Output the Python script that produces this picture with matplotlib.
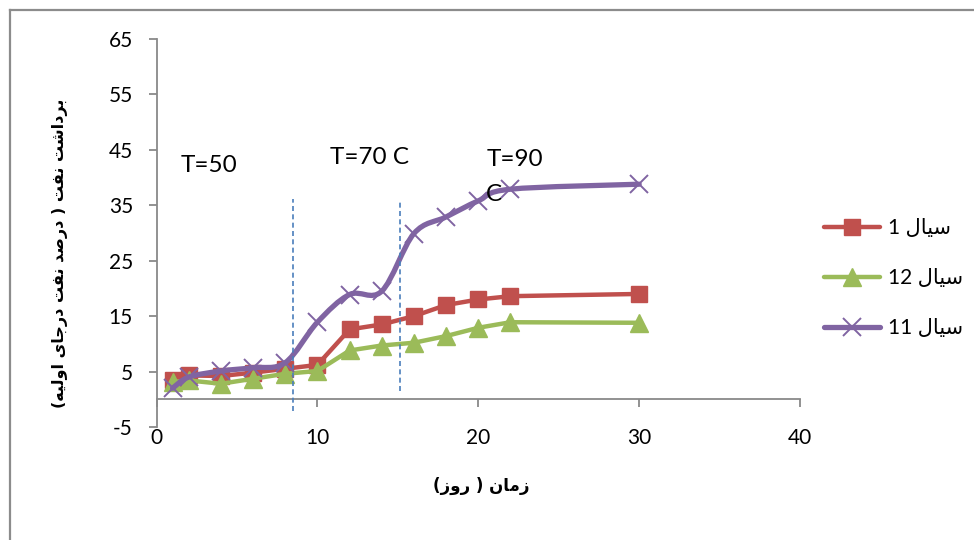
import matplotlib
matplotlib.use("Agg")
import matplotlib.pyplot as plt
from matplotlib.path import Path
from matplotlib.patches import PathPatch
from matplotlib.lines import Line2D
import numpy as np

# ---------------- data ----------------
days = [1, 2, 4, 6, 8, 10, 12, 14, 16, 18, 20, 22, 30]
fluid1 = [3.5, 4.3, 4.2, 4.8, 5.5, 6.2, 12.6, 13.5, 15.0, 17.0, 18.0, 18.6, 19.0]
fluid12 = [3.1, 3.4, 2.8, 3.7, 4.6, 5.1, 8.8, 9.7, 10.2, 11.4, 12.9, 13.9, 13.8]
fluid11 = [2.0, 4.0, 5.1, 5.7, 6.6, 13.9, 18.9, 19.5, 29.9, 32.9, 35.8, 37.9, 38.8]

# Persian labels in visual (pre-shaped, left-to-right) order
SIAL = "\uFEDD\uFE8E\uFEF4\uFEB3"                      # سیال
series_labels = ["1 " + SIAL, "12 " + SIAL, "11 " + SIAL]
ylabel_text = ("(" + "\uFEEA\uFEF4\uFEDF\uFEED\uFE8D" + " "      # اولیه
               + "\uFEEF\uFE8E\uFE9F\uFEAD\uFEA9" + " "          # درجای
               + "\uFE96\uFED4\uFEE7" + " "                      # نفت
               + "\uFEAA\uFEBB\uFEAD\uFEA9" + " ) "              # درصد
               + "\uFE96\uFED4\uFEE7" + " "                      # نفت
               + "\uFE96\uFEB7\uFE8D\uFEA9\uFEAE\uFE91")         # برداشت
xlabel_text = "(" + "\uFEAF\uFEED\uFEAD" + " ) " + "\uFEE5\uFE8E\uFEE3\uFEAF"  # زمان ( روز)

xticks = [0, 10, 20, 30, 40]
yticks = [-5, 5, 15, 25, 35, 45, 55, 65]

# temperature zone separators and labels
sep_x = [8.5, 15.15]
sep_ybot = [-2.2, 1.5]
sep_ytop = [36.2, 35.5]
zone_labels = ["T=50", "T=70 C", "T=90", "C"]
zone_x = [1.5, 10.8, 20.5, 20.5]
zone_y = [42.1, 43.7, 43.2, 36.9]

RED = "#C0504D"
GREEN = "#9BBB59"
PURPLE = "#8064A2"
BLUE = "#4A7EBB"
GRAY = "#898989"

FONT = ["Lato", "DejaVu Sans"]
plt.rcParams["font.family"] = FONT
plt.rcParams["axes.unicode_minus"] = False

fig = plt.figure(figsize=(9.74, 5.4), dpi=100)
ax = fig.add_axes([0.1607, 0.2093, 0.6607, 0.7185])

ax.set_xlim(0, 40)
ax.set_ylim(-5, 65)

# series 1 and 12: straight lines
ax.plot(days, fluid1, color=RED, lw=3.2, marker="s", ms=12, mec=RED,
        solid_joinstyle="round", solid_capstyle="round", zorder=3, clip_on=False)
ax.plot(days, fluid12, color=GREEN, lw=3.2, marker="^", ms=13, mec=GREEN,
        solid_joinstyle="round", solid_capstyle="round", zorder=4, clip_on=False)

# series 11: smoothed line (Bezier through points)
pts = np.column_stack([days, fluid11]).astype(float)
verts = [tuple(pts[0])]
codes = [Path.MOVETO]
n = len(pts)
for i in range(n - 1):
    p0 = pts[i - 1] if i > 0 else pts[i]
    p1 = pts[i]
    p2 = pts[i + 1]
    p3 = pts[i + 2] if i + 2 < n else pts[i + 1]
    c1 = p1 + (p2 - p0) / 6.0
    c2 = p2 - (p3 - p1) / 6.0
    verts += [tuple(c1), tuple(c2), tuple(p2)]
    codes += [Path.CURVE4] * 3
patch = PathPatch(Path(verts, codes), facecolor="none", edgecolor=PURPLE, lw=3.8,
                  capstyle="round", joinstyle="round", zorder=5, clip_on=False)
ax.add_patch(patch)
ax.plot(days, fluid11, linestyle="none", marker="x", ms=13, mew=1.4, color=PURPLE,
        zorder=6, clip_on=False)

# separators
for xs, yb, yt in zip(sep_x, sep_ybot, sep_ytop):
    ax.plot([xs, xs], [yb, yt], color=BLUE, lw=1.2, linestyle=(0, (3, 2)), zorder=7,
            clip_on=False)

for lab, tx, ty in zip(zone_labels, zone_x, zone_y):
    ax.text(tx, ty, lab, fontsize=17.5, ha="left", va="center", color="black", zorder=8)

# axes styling
for s in ["top", "right"]:
    ax.spines[s].set_visible(False)
ax.spines["bottom"].set_position(("data", 0))
ax.spines["left"].set_color(GRAY)
ax.spines["bottom"].set_color(GRAY)
ax.spines["left"].set_linewidth(1.3)
ax.spines["bottom"].set_linewidth(1.3)
ax.set_xticks(xticks)
ax.set_yticks(yticks)
ax.tick_params(axis="both", colors=GRAY, labelcolor="black", labelsize=15,
               direction="out", length=6, width=1.3)
ax.tick_params(axis="y", pad=11)
ax.tick_params(axis="x", pad=15)

# legend
handles = [
    Line2D([], [], color=RED, lw=3.2, marker="s", ms=12, solid_capstyle="round"),
    Line2D([], [], color=GREEN, lw=3.2, marker="^", ms=13, solid_capstyle="round"),
    Line2D([], [], color=PURPLE, lw=3.8, marker="x", ms=13, mew=1.4, solid_capstyle="round"),
]
leg = fig.legend(handles, series_labels, loc="center left",
                 bbox_to_anchor=(824 / 974, 1 - 278 / 540), frameon=False,
                 fontsize=15, handlelength=2.7, handletextpad=0.35, labelspacing=1.45,
                 borderpad=0, borderaxespad=0)

# axis titles
fig.text(60 / 974, 1 - 253 / 540, ylabel_text, rotation=90, ha="center", va="center",
         fontsize=11.5, fontweight="bold", family=["DejaVu Sans"])
fig.text(481 / 974, 1 - 486 / 540, xlabel_text, ha="center", va="center",
         fontsize=12, fontweight="bold", family=["DejaVu Sans"])

# chart-area border (left and top edges visible)
fig.add_artist(Line2D([9.5 / 974, 9.5 / 974], [0, 1 - 9.5 / 540], color="#8C8C8C", lw=1.6,
                      transform=fig.transFigure))
fig.add_artist(Line2D([9.5 / 974, 1], [1 - 9.5 / 540, 1 - 9.5 / 540], color="#8C8C8C", lw=1.6,
                      transform=fig.transFigure))

fig.savefig("out.png", dpi=100)
